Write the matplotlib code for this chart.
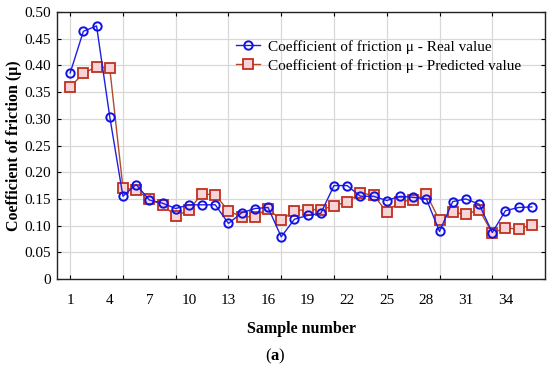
import matplotlib.pyplot as plt
import numpy as np

# sample numbers 1..36
samples = np.arange(1, 37)

real_value = [0.386, 0.464, 0.474, 0.304, 0.155, 0.177, 0.148, 0.142, 0.132, 0.139,
              0.139, 0.139, 0.104, 0.124, 0.132, 0.134, 0.079, 0.112, 0.119, 0.123,
              0.175, 0.175, 0.155, 0.155, 0.147, 0.155, 0.153, 0.150, 0.089, 0.145,
              0.150, 0.140, 0.087, 0.128, 0.134, 0.135]

predicted_value = [0.360, 0.385, 0.398, 0.395, 0.171, 0.167, 0.149, 0.139, 0.118, 0.129,
                   0.160, 0.157, 0.128, 0.116, 0.117, 0.132, 0.110, 0.128, 0.130, 0.130,
                   0.137, 0.145, 0.161, 0.157, 0.126, 0.145, 0.148, 0.159, 0.110, 0.125,
                   0.121, 0.130, 0.086, 0.096, 0.093, 0.102]

label_ticks = list(range(1, 35, 3))
grid_ticks = list(range(1, 34, 4))
y_ticks = np.arange(0, 0.501, 0.05)
y_labels = ['0'] + ['%.2f' % v for v in y_ticks[1:]]

plt.rcParams['font.family'] = 'Liberation Serif'
plt.rcParams['mathtext.fontset'] = 'custom'
plt.rcParams['mathtext.bf'] = 'Liberation Serif:bold'

fig = plt.figure(figsize=(5.5, 3.66), dpi=100)
ax = fig.add_axes([0.1036, 0.2377, 0.8874, 0.7293])

ax.plot(samples, real_value, color='#1f1fe0', lw=1.0, marker='o', ms=6,
        mfc='none', mec='#1010e8', mew=1.4, zorder=3,
        label='Coefficient of friction \u03bc - Real value')
ax.plot(samples, predicted_value, color='#b04a2a', lw=1.0, marker='s', ms=6.5,
        mfc='#f6d4d8', mec='#c0301e', mew=1.3, zorder=2,
        label='Coefficient of friction \u03bc - Predicted value')

ax.set_xlim(0, 37)
ax.set_ylim(0, 0.5)

# gridlines / tick marks every 4 samples, labels every 3 samples
ax.set_xticks(grid_ticks)
ax.set_xticklabels([])
ax.set_xticks(label_ticks, minor=True)
ax.set_xticklabels([str(t) for t in label_ticks], minor=True)
ax.xaxis.remove_overlapping_locs = False
ax.tick_params(axis='x', which='minor', length=0, labelsize=11, pad=11)
ax.tick_params(axis='x', which='major', direction='in', length=3, top=True)

ax.set_yticks(y_ticks)
ax.set_yticklabels(y_labels)
ax.tick_params(axis='y', direction='in', length=3, right=True, labelsize=11, pad=4)

ax.grid(True, which='major', color='#d8d8d8', lw=0.9)
ax.set_axisbelow(True)
for s in ax.spines.values():
    s.set_linewidth(1.0)
    s.set_color('#222222')

ax.set_xlabel('Sample number', fontsize=11.5, fontweight='bold', labelpad=10)
ax.set_ylabel('Coefficient of friction (\u03bc)', fontsize=11.5, fontweight='bold')
ax.yaxis.set_label_coords(-0.071, 0.5)

ax.legend(loc='upper right', bbox_to_anchor=(0.97, 0.93), frameon=False,
          fontsize=11, handlelength=1.6, handletextpad=0.5, labelspacing=0.35,
          borderaxespad=0.2)

fig.text(0.5, 0.015, r'($\mathbf{a}$)', ha='center', fontsize=12)

fig.savefig('out.png', dpi=100)
